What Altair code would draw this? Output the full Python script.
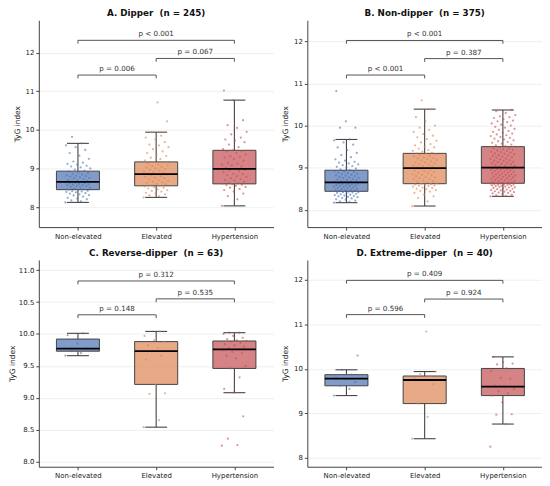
import altair as alt
import pandas as pd

groups = ["Non-elevated", "Elevated", "Hypertension"]
colors = ["#4c72b0", "#dd8452", "#c44e52"]

# ---------------- Panel A: Dipper ----------------
A_title = "A. Dipper\u00a0 (n = 245)"
A_domain = [7.48, 12.84]
A_ticks = [8, 9, 10, 11, 12]
A_stats = {  # lo whisker, q1, median, q3, hi whisker
    "lo": [8.12, 8.25, 8.03],
    "q1": [8.45, 8.55, 8.60],
    "med": [8.65, 8.85, 8.99],
    "q3": [8.93, 9.17, 9.47],
    "hi": [9.65, 9.94, 10.77],
}
A_non = [8.12, 8.15, 8.17, 8.2, 8.22, 8.24, 8.27, 8.3, 8.31, 8.33, 8.35, 8.36, 8.38, 8.39, 8.4, 8.41, 8.42, 8.44, 8.45,
         8.46, 8.48, 8.5, 8.51, 8.52, 8.54, 8.55, 8.56, 8.57, 8.58, 8.59, 8.6, 8.61, 8.62, 8.63, 8.64, 8.65,
         8.66, 8.68, 8.69, 8.7, 8.72, 8.74, 8.75, 8.77, 8.79, 8.8, 8.81, 8.82, 8.84, 8.86, 8.88, 8.9, 8.92,
         8.94, 8.97, 9.0, 9.03, 9.05, 9.07, 9.1, 9.12, 9.15, 9.18, 9.25, 9.33, 9.4, 9.48, 9.55, 9.6, 9.65, 9.82]
A_elev = [8.25, 8.28, 8.3, 8.33, 8.35, 8.37, 8.4, 8.42, 8.44, 8.46, 8.48, 8.5, 8.52, 8.53, 8.55,
          8.57, 8.59, 8.6, 8.62, 8.64, 8.66, 8.68, 8.7, 8.72, 8.74, 8.76, 8.78, 8.8, 8.82, 8.84, 8.85,
          8.87, 8.89, 8.9, 8.92, 8.94, 8.96, 8.98, 9.0, 9.02, 9.04, 9.06, 9.08, 9.1, 9.13, 9.15, 9.17,
          9.2, 9.24, 9.28, 9.32, 9.36, 9.4, 9.44, 9.5, 9.55, 9.6, 9.62, 9.68, 9.75, 9.8, 9.85, 9.94, 10.22, 10.71]
A_hyp = [8.03, 8.2, 8.28, 8.35, 8.4, 8.44, 8.47, 8.5, 8.52, 8.55, 8.57, 8.58, 8.59,
         8.61, 8.62, 8.63, 8.66, 8.69, 8.7, 8.72, 8.75, 8.78, 8.8, 8.83, 8.85, 8.86, 8.9, 8.93, 8.95, 8.96, 8.99,
         9.01, 9.05, 9.08, 9.1, 9.12, 9.15, 9.2, 9.24, 9.28, 9.3, 9.32, 9.36, 9.4, 9.44, 9.45, 9.47,
         9.5, 9.55, 9.62, 9.68, 9.72, 9.75, 9.8, 9.88, 9.95, 10.05, 10.12, 10.25, 10.77, 11.02]
A_brackets = {"x1": [0, 1, 0], "x2": [1, 2, 2], "h": [11.42, 11.85, 12.32],
              "label": ["p = 0.006", "p = 0.067", "p < 0.001"]}

# ---------------- Panel B: Non-dipper ----------------
B_title = "B. Non-dipper\u00a0 (n = 375)"
B_domain = [7.59, 12.5]
B_ticks = [8, 9, 10, 11, 12]
B_stats = {
    "lo": [8.17, 8.09, 8.32],
    "q1": [8.44, 8.62, 8.63],
    "med": [8.65, 8.99, 9.00],
    "q3": [8.94, 9.34, 9.50],
    "hi": [9.67, 10.39, 10.37],
}
B_non = [8.17, 8.19, 8.2, 8.22, 8.24, 8.25, 8.27, 8.28, 8.3, 8.31, 8.32, 8.33, 8.34, 8.35, 8.36, 8.37, 8.38, 8.39,
         8.4, 8.41, 8.42, 8.42, 8.43, 8.44,
         8.45, 8.46, 8.47, 8.48, 8.49, 8.5, 8.51, 8.52, 8.53, 8.54, 8.55, 8.56, 8.57, 8.58, 8.58, 8.59, 8.6, 8.61,
         8.62, 8.62, 8.63, 8.64, 8.65,
         8.66, 8.67, 8.68, 8.7, 8.71, 8.72, 8.73, 8.75, 8.76, 8.77, 8.78, 8.8, 8.81, 8.82, 8.83, 8.85, 8.86, 8.87,
         8.88, 8.9, 8.91, 8.92, 8.94,
         8.96, 8.98, 9.0, 9.02, 9.04, 9.06, 9.08, 9.1, 9.12, 9.14, 9.17, 9.2, 9.25, 9.3, 9.35, 9.42, 9.48, 9.55,
         9.6, 9.65, 9.67, 9.95, 9.95, 10.1, 10.82]
B_elev = [8.09, 8.2, 8.28, 8.32, 8.36, 8.4, 8.43, 8.45, 8.47, 8.49, 8.5, 8.52, 8.53, 8.55, 8.56, 8.57, 8.58, 8.59,
          8.6, 8.61, 8.62,
          8.63, 8.65, 8.67, 8.68, 8.7, 8.72, 8.73, 8.75, 8.77, 8.78, 8.8, 8.82, 8.83, 8.85, 8.87, 8.88, 8.9, 8.92,
          8.93, 8.95, 8.97, 8.98, 8.99,
          9.0, 9.02, 9.03, 9.05, 9.07, 9.08, 9.1, 9.12, 9.13, 9.15, 9.17, 9.18, 9.2, 9.22, 9.23, 9.25, 9.27, 9.28,
          9.3, 9.32, 9.33, 9.34,
          9.36, 9.38, 9.4, 9.42, 9.45, 9.48, 9.5, 9.53, 9.56, 9.6, 9.64, 9.68, 9.72, 9.76, 9.8, 9.85, 9.9, 9.95,
          10.0, 10.1, 10.2, 10.39, 10.6]
B_hyp = [8.32, 8.33, 8.35, 8.36, 8.38, 8.39, 8.4, 8.41, 8.42, 8.43, 8.44, 8.45, 8.46, 8.47, 8.48, 8.49, 8.5, 8.51,
         8.52, 8.53, 8.54, 8.54, 8.55, 8.56, 8.57, 8.57, 8.58, 8.59, 8.59, 8.6, 8.6, 8.61, 8.61, 8.62, 8.62, 8.63, 8.63,
         8.64, 8.65, 8.66, 8.67, 8.68, 8.69, 8.7, 8.71, 8.72, 8.73, 8.74, 8.75, 8.76, 8.77, 8.78, 8.79, 8.8, 8.81,
         8.82, 8.83, 8.84, 8.85, 8.86, 8.87, 8.88, 8.89, 8.9, 8.91, 8.92, 8.93, 8.94, 8.95, 8.96, 8.97, 8.98, 8.99, 9.0,
         9.01, 9.02, 9.04, 9.05, 9.06, 9.08, 9.09, 9.1, 9.12, 9.13, 9.14, 9.16, 9.17, 9.18, 9.2, 9.21, 9.22, 9.24,
         9.25, 9.26, 9.28, 9.29, 9.3, 9.32, 9.33, 9.34, 9.36, 9.37, 9.38, 9.4, 9.41, 9.42, 9.44, 9.45, 9.46, 9.48, 9.5,
         9.51, 9.53, 9.55, 9.57, 9.59, 9.61, 9.63, 9.65, 9.67, 9.69, 9.71, 9.73, 9.75, 9.77, 9.79, 9.81, 9.83, 9.85,
         9.87, 9.9, 9.92, 9.95, 9.97, 10.0, 10.02, 10.05, 10.08, 10.1, 10.12, 10.15, 10.18, 10.2, 10.22, 10.25, 10.3,
         10.34, 10.37]
B_brackets = {"x1": [0, 1, 0], "x2": [1, 2, 2], "h": [11.20, 11.59, 12.02],
              "label": ["p < 0.001", "p = 0.387", "p < 0.001"]}

# ---------------- Panel C: Reverse-dipper ----------------
C_title = "C. Reverse-dipper\u00a0 (n = 63)"
C_domain = [7.92, 11.16]
C_ticks = [8.0, 8.5, 9.0, 9.5, 10.0, 10.5, 11.0]
C_stats = {
    "lo": [9.66, 8.54, 9.08],
    "q1": [9.73, 9.21, 9.46],
    "med": [9.77, 9.73, 9.76],
    "q3": [9.92, 9.88, 9.89],
    "hi": [10.01, 10.04, 10.02],
}
C_non = [9.66, 9.7, 9.73, 9.77, 9.85, 9.98, 10.01]
C_elev = [8.54, 8.65, 9.06, 9.07, 9.21, 9.6, 9.66, 9.73, 9.73, 9.78, 9.82, 9.88, 9.9, 9.97, 10.04]
C_hyp = [8.25, 8.26, 8.36, 8.71, 9.08, 9.14, 9.32, 9.46, 9.5, 9.62, 9.66, 9.7, 9.72, 9.75, 9.76, 9.78, 9.8,
         9.82, 9.84, 9.86, 9.88, 9.89, 9.9, 9.92, 9.94, 9.97, 10.0, 10.02, 10.02]
C_brackets = {"x1": [0, 1, 0], "x2": [1, 2, 2], "h": [10.30, 10.55, 10.83],
              "label": ["p = 0.148", "p = 0.535", "p = 0.312"]}

# ---------------- Panel D: Extreme-dipper ----------------
D_title = "D. Extreme-dipper\u00a0 (n = 40)"
D_domain = [7.8, 12.45]
D_ticks = [8, 9, 10, 11, 12]
D_stats = {
    "lo": [9.40, 8.43, 8.76],
    "q1": [9.62, 9.22, 9.40],
    "med": [9.78, 9.75, 9.60],
    "q3": [9.87, 9.84, 10.01],
    "hi": [9.98, 9.94, 10.27],
}
D_non = [9.4, 9.55, 9.62, 9.7, 9.78, 9.8, 9.87, 9.98, 10.3]
D_elev = [8.43, 8.92, 9.22, 9.65, 9.75, 9.8, 9.84, 9.88, 9.94, 10.84]
D_hyp = [8.25, 8.76, 8.97, 8.98, 9.25, 9.4, 9.45, 9.5, 9.55, 9.6, 9.62, 9.78, 9.8, 9.95, 10.01, 10.1, 10.12,
         10.15, 10.27]
D_brackets = {"x1": [0, 1, 0], "x2": [1, 2, 2], "h": [11.22, 11.57, 11.99],
              "label": ["p = 0.596", "p = 0.924", "p = 0.409"]}

FONT = "DejaVu Sans"
W, H = 236, 208


def panel(title, domain, ticks, stats, pts, brackets, fmt, title_pad):
    stats_df = pd.DataFrame(stats)
    stats_df["g"] = [0, 1, 2]
    stats_df["name"] = groups

    rows = []
    for gi, vals in enumerate(pts):
        for i, v in enumerate(vals):
            rows.append({"g": gi, "name": groups[gi], "v": v, "i": i})
    pts_df = pd.DataFrame(rows)

    br = pd.DataFrame(brackets)
    drop = 0.016 * (domain[1] - domain[0])
    br["lo"] = br["h"] - drop
    br["xm"] = (br["x1"] + br["x2"]) / 2

    xaxis = alt.Axis(values=[0, 1, 2], grid=False, tickSize=3, labelFontSize=7, labelPadding=2,
                     labelExpr="datum.value == 0 ? 'Non-elevated' : datum.value == 1 ? 'Elevated' : 'Hypertension'",
                     title=None)
    yaxis = alt.Axis(values=ticks, format=fmt, grid=True, tickSize=3, labelFontSize=7, labelPadding=2,
                     title="TyG index", titleFontSize=7.5, titleFontWeight="normal", titlePadding=title_pad)
    xs = alt.Scale(domain=[-0.5, 2.5], nice=False, zero=False)
    ys = alt.Scale(domain=domain, nice=False, zero=False)

    def X(f):
        return alt.X(f, type="quantitative", scale=xs, axis=xaxis)

    def Y(f):
        return alt.Y(f, type="quantitative", scale=ys, axis=yaxis)

    fill = alt.Fill("name:N", scale=alt.Scale(domain=groups, range=colors), legend=None)

    base = alt.Chart(stats_df).transform_calculate(
        bx1="datum.g - 0.275", bx2="datum.g + 0.275", cx1="datum.g - 0.14", cx2="datum.g + 0.14")

    wcol = "#444"
    wlo = base.mark_rule(color=wcol, strokeWidth=1.1).encode(x=X("g"), y=Y("lo"), y2="q1")
    whi = base.mark_rule(color=wcol, strokeWidth=1.1).encode(x=X("g"), y=Y("q3"), y2="hi")
    caplo = base.mark_rule(color=wcol, strokeWidth=1.1).encode(x=X("cx1"), x2="cx2", y=Y("lo"))
    caphi = base.mark_rule(color=wcol, strokeWidth=1.1).encode(x=X("cx1"), x2="cx2", y=Y("hi"))
    box = base.mark_bar(stroke=wcol, strokeWidth=1, fillOpacity=0.7).encode(
        x=X("bx1"), x2="bx2", y=Y("q1"), y2="q3", fill=fill)
    med = base.mark_rule(color="black", strokeWidth=1.8).encode(x=X("bx1"), x2="bx2", y=Y("med"))

    points = alt.Chart(pts_df).transform_calculate(
        jx="datum.g + ((datum.i * 0.618034) % 1 - 0.5) * 0.32"
    ).mark_circle(size=5, opacity=0.6).encode(x=X("jx"), y=Y("v"), fill=fill)

    bb = alt.Chart(br)
    bh = bb.mark_rule(color="#555", strokeWidth=1).encode(x=X("x1"), x2="x2", y=Y("h"))
    bl = bb.mark_rule(color="#555", strokeWidth=1).encode(x=X("x1"), y=Y("lo"), y2="h")
    brr = bb.mark_rule(color="#555", strokeWidth=1).encode(x=X("x2"), y=Y("lo"), y2="h")
    txt = bb.mark_text(fontSize=7.2, font=FONT, color="#333", baseline="bottom", dy=-2).encode(
        x=X("xm"), y=Y("h"), text="label:N")

    return alt.layer(wlo, whi, caplo, caphi, box, points, med, bh, bl, brr, txt).properties(
        width=W, height=H,
        title=alt.TitleParams(title, fontSize=8.8, fontWeight="bold", font=FONT, anchor="middle",
                              offset=2, color="#111"))


pA = panel(A_title, A_domain, A_ticks, A_stats, [A_non, A_elev, A_hyp], A_brackets, "d", 4)
pB = panel(B_title, B_domain, B_ticks, B_stats, [B_non, B_elev, B_hyp], B_brackets, "d", 4)
pC = panel(C_title, C_domain, C_ticks, C_stats, [C_non, C_elev, C_hyp], C_brackets, ".1f", 2)
pD = panel(D_title, D_domain, D_ticks, D_stats, [D_non, D_elev, D_hyp], D_brackets, "d", 4)

chart = alt.concat(pA, pB, pC, pD, columns=2, spacing={"row": 33, "column": 34}, bounds="flush").properties(
    padding={"left": 0, "top": 0, "right": 0, "bottom": 0}
).configure_view(stroke=None).configure_axis(
    gridColor="#ebebeb", gridWidth=0.8, domainColor="#444", tickColor="#444", labelColor="#222",
    titleColor="#222", labelFont=FONT, titleFont=FONT
)

chart.save("out.html", embed_options={"renderer": "svg", "actions": False})
